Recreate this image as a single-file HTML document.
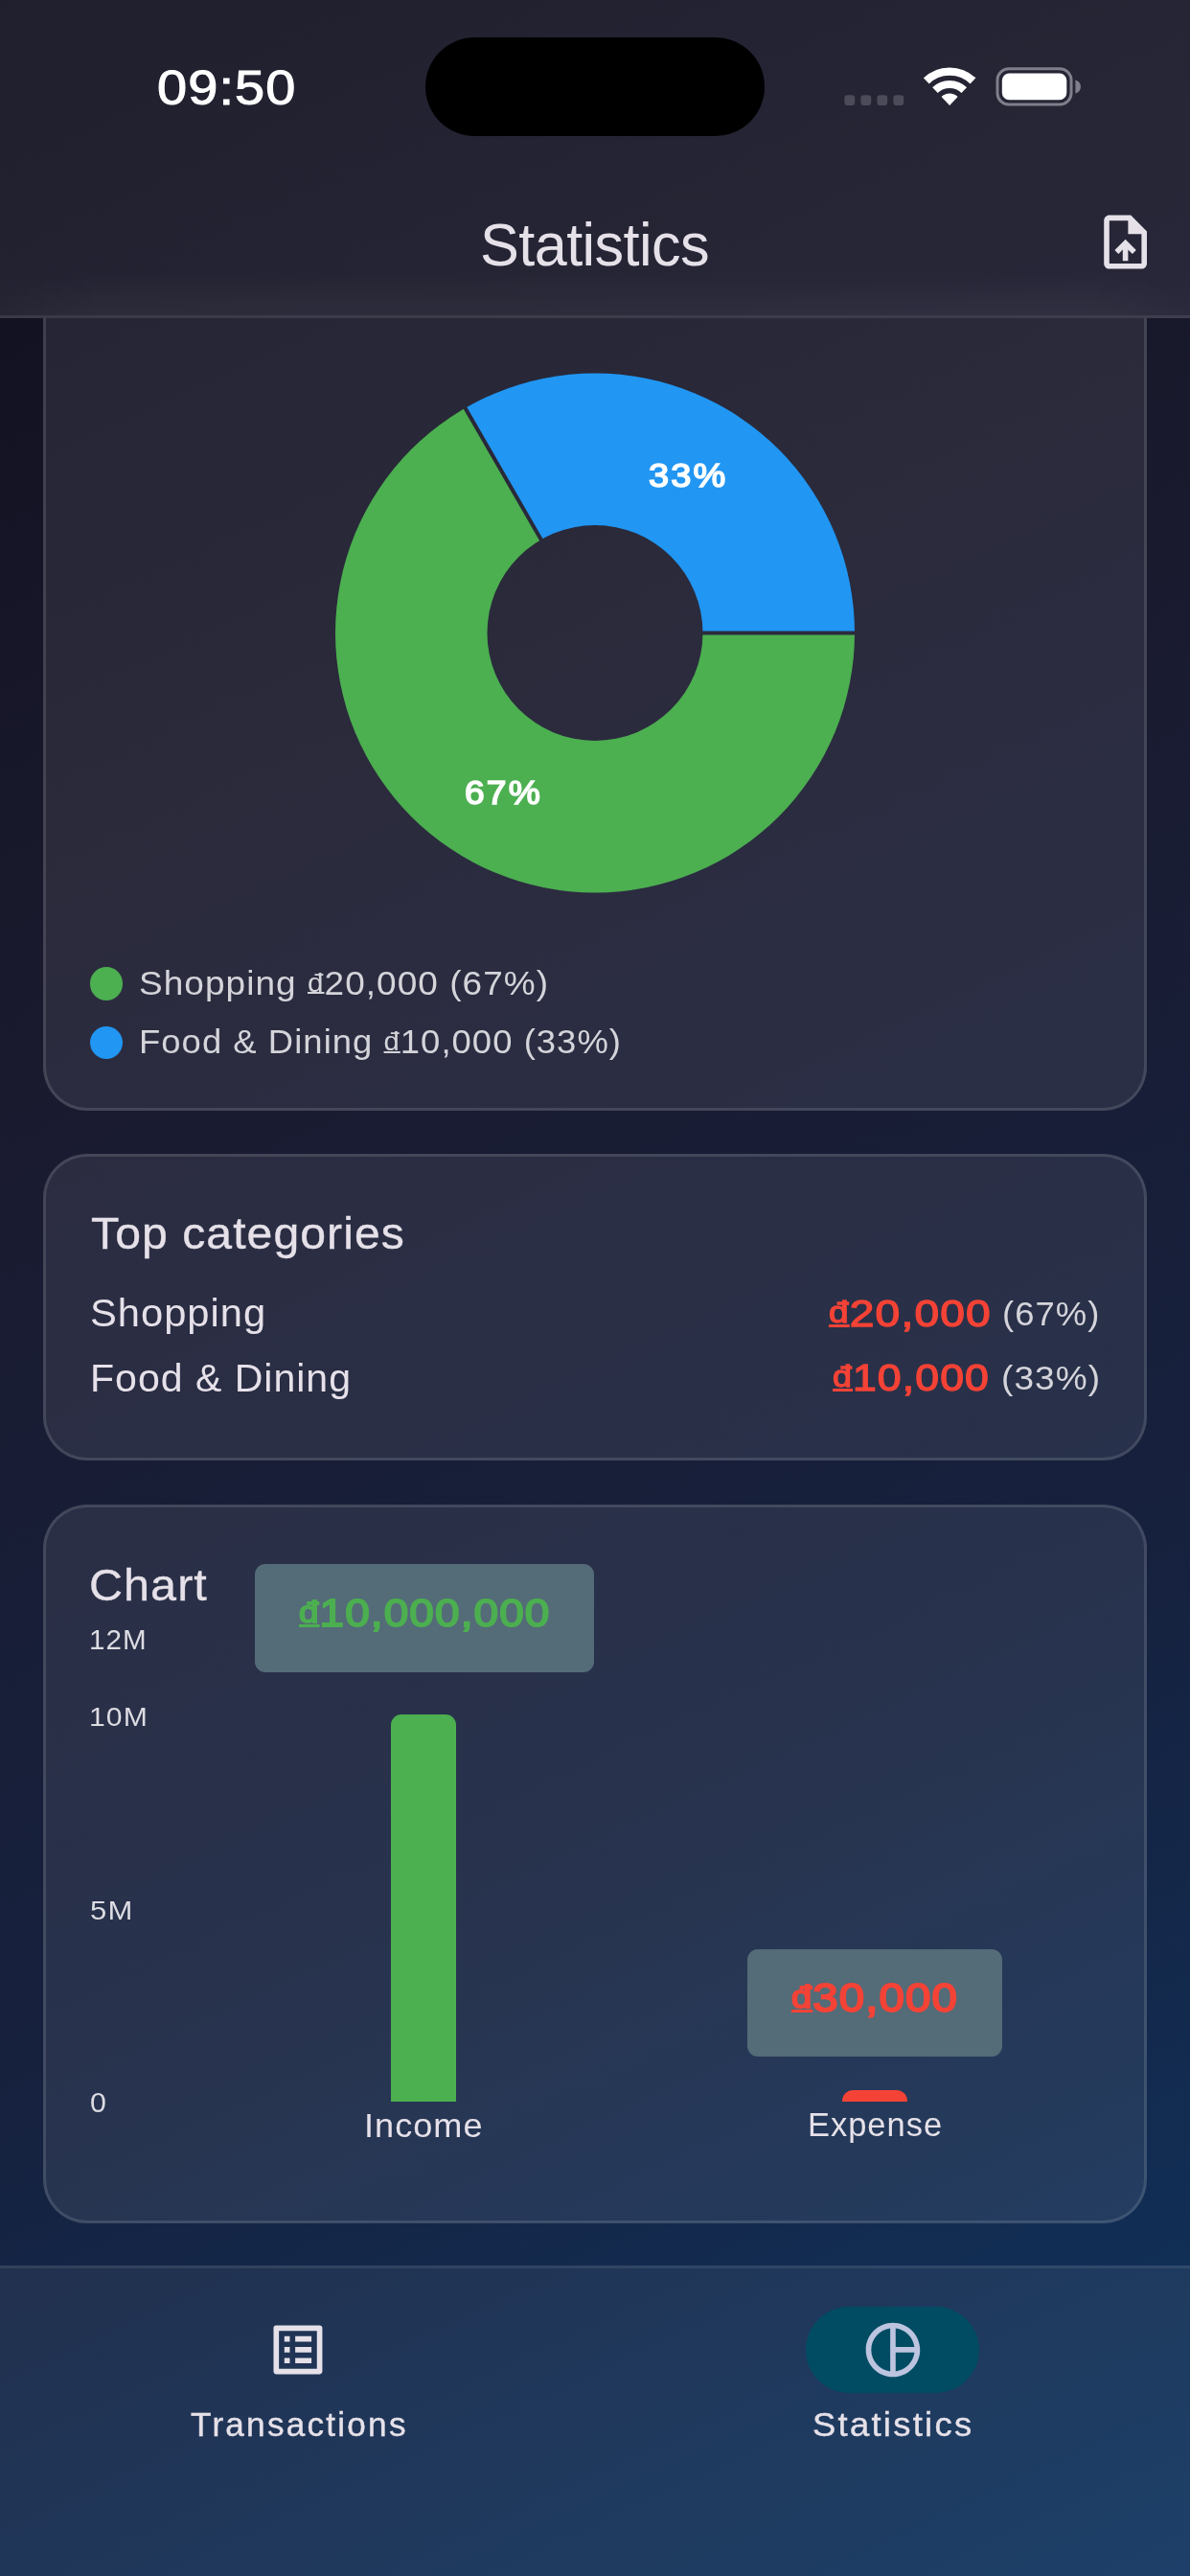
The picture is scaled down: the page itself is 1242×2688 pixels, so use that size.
<!DOCTYPE html>
<html><head><meta charset="utf-8"><title>Statistics</title>
<style>
html,body{margin:0;padding:0;}
body{width:1242px;height:2688px;overflow:hidden;position:relative;font-family:"Liberation Sans",sans-serif;
background:linear-gradient(155.2deg,#0f0f1e 0%,#1a1a2e 33.33%,#16213e 66.67%,#0f3460 100%);}
.t{position:absolute;white-space:pre;line-height:normal;margin:0;padding:0;}
.abs{position:absolute;}
.dg{font-size:80%;vertical-align:.115em;text-decoration:underline;text-decoration-thickness:.085em;text-underline-offset:.05em;text-decoration-skip-ink:none;}
.card{position:absolute;left:45px;width:1152px;box-sizing:border-box;border:3px solid rgba(255,255,255,.12);
background:rgba(255,255,255,.08);border-radius:46px;}
svg{position:absolute;overflow:visible;}
</style></head><body>
<div class="card" style="top:200px;height:958.5px;"></div>
<div class="card" style="top:1204px;height:320px;"></div>
<div class="card" style="top:1570px;height:750px;"></div>
<svg class="abs" style="left:0;top:0" width="1242" height="1200" viewBox="0 0 1242 1200">
<defs><mask id="ring" maskUnits="userSpaceOnUse" x="0" y="0" width="1242" height="1200">
<rect x="0" y="0" width="1242" height="1200" fill="#000"/>
<circle cx="621" cy="660.5" r="271" fill="#fff"/>
<circle cx="621" cy="660.5" r="112.5" fill="#000"/>
<line x1="621" y1="660.5" x2="896" y2="660.5" stroke="#000" stroke-width="4"/>
<line x1="621" y1="660.5" x2="484.50" y2="424.08" stroke="#000" stroke-width="4"/>
</mask></defs>
<g mask="url(#ring)">
<circle cx="621" cy="660.5" r="272" fill="#4caf50"/>
<path d="M621 660.5 L484.00 423.21 A274 274 0 0 1 895 660.5 Z" fill="#2196f3"/>
</g>
</svg>
<div class="t" style="left:676.6px;top:477.1px;font-size:34.5px;font-weight:400;letter-spacing:2.0px;color:#fff;-webkit-text-stroke:1.59px #fff;transform:scaleX(1.0992);transform-origin:0 0;">33%</div>
<div class="t" style="left:485.1px;top:807.1px;font-size:35.0px;font-weight:400;letter-spacing:2.0px;color:#fff;-webkit-text-stroke:1.61px #fff;transform:scaleX(1.0630);transform-origin:0 0;">67%</div>
<div class="abs" style="left:93.5px;top:1009px;width:34.5px;height:34.5px;border-radius:50%;background:#4caf50"></div>
<div class="abs" style="left:93.5px;top:1070.5px;width:34.5px;height:34.5px;border-radius:50%;background:#2196f3"></div>
<div class="t" style="left:144.9px;top:1005.5px;font-size:35.0px;font-weight:400;letter-spacing:1.0px;color:#d4d4da;transform:scaleX(1.0562);transform-origin:0 0;">Shopping <span class="dg">đ</span>20,000 (67%)</div>
<div class="t" style="left:144.9px;top:1067.3px;font-size:35.0px;font-weight:400;letter-spacing:1.0px;color:#d4d4da;transform:scaleX(1.0408);transform-origin:0 0;">Food &amp; Dining <span class="dg">đ</span>10,000 (33%)</div>
<div class="t" style="left:94.9px;top:1261.7px;font-size:45.5px;font-weight:400;letter-spacing:1.0px;color:#e6e1e9;-webkit-text-stroke:0.35px #e6e1e9;transform:scaleX(1.0579);transform-origin:0 0;">Top categories</div>
<div class="t" style="left:94.0px;top:1346.3px;font-size:41.5px;font-weight:400;letter-spacing:1.0px;color:#e6e1e9;transform:scaleX(1.0038);transform-origin:0 0;">Shopping</div>
<div class="t" style="left:93.8px;top:1414.0px;font-size:41.5px;font-weight:400;letter-spacing:1.0px;color:#e6e1e9;transform:scaleX(0.9892);transform-origin:0 0;">Food &amp; Dining</div>
<div class="t" style="left:864.9px;top:1349.0px;font-size:39.0px;font-weight:400;letter-spacing:1.0px;color:#f44336;-webkit-text-stroke:1.33px #f44336;transform:scaleX(1.1829);transform-origin:0 0;"><span class="dg">đ</span>20,000</div>
<div class="t" style="left:1046.3px;top:1351.0px;font-size:35.0px;font-weight:400;letter-spacing:1.0px;color:#d4d4da;transform:scaleX(1.0406);transform-origin:0 0;">(67%)</div>
<div class="t" style="left:868.9px;top:1416.0px;font-size:39.0px;font-weight:400;letter-spacing:1.0px;color:#f44336;-webkit-text-stroke:1.33px #f44336;transform:scaleX(1.1414);transform-origin:0 0;"><span class="dg">đ</span>10,000</div>
<div class="t" style="left:1044.7px;top:1418.0px;font-size:35.0px;font-weight:400;letter-spacing:1.0px;color:#d4d4da;transform:scaleX(1.0578);transform-origin:0 0;">(33%)</div>
<div class="t" style="left:92.5px;top:1626.4px;font-size:47.0px;font-weight:400;letter-spacing:1.0px;color:#e6e1e9;-webkit-text-stroke:0.35px #e6e1e9;transform:scaleX(1.0327);transform-origin:0 0;">Chart</div>
<div class="t" style="left:92.7px;top:1694.5px;font-size:29.0px;font-weight:400;letter-spacing:1.0px;color:#dcdce2;transform:scaleX(1.0218);transform-origin:0 0;">12M</div>
<div class="t" style="left:92.7px;top:1775.7px;font-size:28.0px;font-weight:400;letter-spacing:1.0px;color:#dcdce2;transform:scaleX(1.0761);transform-origin:0 0;">10M</div>
<div class="t" style="left:93.8px;top:1977.0px;font-size:28.5px;font-weight:400;letter-spacing:1.0px;color:#dcdce2;transform:scaleX(1.0913);transform-origin:0 0;">5M</div>
<div class="t" style="left:93.8px;top:2177.8px;font-size:29.0px;font-weight:400;letter-spacing:0.0px;color:#dcdce2;transform:scaleX(1.0459);transform-origin:0 0;">0</div>
<div class="abs" style="left:265.5px;top:1632px;width:354.5px;height:112.5px;border-radius:11px;background:#546b78"></div>
<div class="t" style="left:312.0px;top:1660.5px;font-size:40.0px;font-weight:400;letter-spacing:1.0px;color:#4caf50;-webkit-text-stroke:1.84px #4caf50;transform:scaleX(1.1462);transform-origin:0 0;"><span class="dg">đ</span>10,000,000</div>
<div class="abs" style="left:408px;top:1789px;width:68px;height:404px;border-radius:11px 11px 0 0;background:#4caf50"></div>
<div class="abs" style="left:780.3px;top:2033.7px;width:265.7px;height:112px;border-radius:11px;background:#546b78"></div>
<div class="t" style="left:826.4px;top:2061.4px;font-size:42.5px;font-weight:400;letter-spacing:1.0px;color:#f44336;-webkit-text-stroke:1.96px #f44336;transform:scaleX(1.1165);transform-origin:0 0;"><span class="dg">đ</span>30,000</div>
<div class="abs" style="left:879px;top:2181px;width:68px;height:12px;border-radius:11.5px 11.5px 0 0;background:#f44336"></div>
<div class="t" style="left:379.7px;top:2198.0px;font-size:35.0px;font-weight:400;letter-spacing:1.0px;color:#e6e1e9;transform:scaleX(1.0314);transform-origin:0 0;">Income</div>
<div class="t" style="left:842.6px;top:2197.6px;font-size:34.5px;font-weight:400;letter-spacing:1.0px;color:#e6e1e9;transform:scaleX(0.9985);transform-origin:0 0;">Expense</div>
<div class="abs" style="left:0;top:0;width:1242px;height:332px;background:#0f0f1e linear-gradient(155.2deg,#0f0f1e 0%,#1a1a2e 33.33%,#16213e 66.67%,#0f3460 100%);background-size:1242px 2688px;background-repeat:no-repeat;"></div>
<div class="abs" style="left:0;top:0;width:1242px;height:329px;background:linear-gradient(to bottom,rgba(255,255,255,.066) 0%,rgba(255,255,255,.068) 86%,rgba(255,255,255,.078) 100%);border-bottom:3px solid rgba(255,255,255,.105);"></div>
<div class="abs" style="left:0;top:270px;width:1242px;height:59px;background:linear-gradient(to bottom,rgba(255,255,255,0) 0%,rgba(255,255,255,.008) 35%,rgba(255,255,255,.03) 100%);-webkit-mask-image:linear-gradient(to right,rgba(0,0,0,.15) 0,#000 110px,#000 1132px,rgba(0,0,0,.15) 1242px);mask-image:linear-gradient(to right,rgba(0,0,0,.15) 0,#000 110px,#000 1132px,rgba(0,0,0,.15) 1242px);"></div>
<div class="abs" style="left:444px;top:39px;width:354px;height:103px;border-radius:52px;background:#000"></div>
<div class="t" style="left:164.3px;top:63.3px;font-size:50.0px;font-weight:400;letter-spacing:1.0px;color:#fff;-webkit-text-stroke:1.05px #fff;transform:scaleX(1.1180);transform-origin:0 0;">09:50</div>
<div class="t" style="left:500.8px;top:218.5px;font-size:63.5px;font-weight:400;letter-spacing:-0.6px;color:#e6e1e9;transform:scaleX(0.9639);transform-origin:0 0;">Statistics</div>
<svg style="left:0;top:0" width="1242" height="330" viewBox="0 0 1242 330">
<rect x="881.4" y="99.2" width="10.8" height="10.8" rx="3" fill="#4b4b59"/><rect x="898.4" y="99.2" width="10.8" height="10.8" rx="3" fill="#4b4b59"/><rect x="915.4" y="99.2" width="10.8" height="10.8" rx="3" fill="#4b4b59"/><rect x="932.4" y="99.2" width="10.8" height="10.8" rx="3" fill="#4b4b59"/>
<clipPath id="wf"><path d="M991.1 110 L949.80 66.48 L1032.40 66.48 Z"/></clipPath>
<g clip-path="url(#wf)" fill="none" stroke="#fff">
<circle cx="991.1" cy="110" r="35.4" stroke-width="8.4"/>
<circle cx="991.1" cy="110" r="22" stroke-width="8"/>
<circle cx="991.1" cy="110" r="6.2" stroke-width="12.4"/>
</g>
<rect x="1041" y="71.8" width="77" height="37.2" rx="11.8" fill="none" stroke="#7f7f8b" stroke-width="3"/>
<rect x="1045.8" y="76.6" width="67.5" height="27.6" rx="7.5" fill="#fff"/>
<path d="M1122.4 83.6 C1126.6 84.6 1127.9 88 1127.9 90.5 C1127.9 93 1126.6 96.4 1122.4 97.4 Z" fill="#7f7f8b"/>
</svg>
<svg style="left:1140.65px;top:219.40px" width="67.20" height="67.20" viewBox="0 0 24 24">
<path fill="#e6e1e9" d="M14,2H6C4.9,2,4.01,2.9,4.01,4L4,20c0,1.1,0.89,2,1.99,2H18c1.1,0,2-0.9,2-2V8L14,2z M18,20H6V4h7v5h5V20z M8,15.01 l1.41,1.41L11,14.84V19h2v-4.16l1.59,1.59L16,15.01L12.01,11L8,15.01z"/>
</svg>
<div class="abs" style="left:0;top:2364px;width:1242px;height:324px;background:#0f3460 linear-gradient(155.2deg,#0f0f1e 0%,#1a1a2e 33.33%,#16213e 66.67%,#0f3460 100%);background-size:1242px 2688px;background-position:0 -2364px;background-repeat:no-repeat;"></div>
<div class="abs" style="left:0;top:2364px;width:1242px;height:324px;box-sizing:border-box;background:rgba(255,255,255,.06);border-top:3px solid rgba(255,255,255,.08);"></div>
<div class="abs" style="left:841px;top:2406.7px;width:181px;height:90px;border-radius:45px;background:#014c63"></div>
<svg style="left:276.54px;top:2417.54px" width="67.92" height="67.92" viewBox="0 0 24 24">
<path fill="#e6e1e9" d="M11 7h6v2h-6zm0 4h6v2h-6zm0 4h6v2h-6zM7 7h2v2H7zm0 4h2v2H7zm0 4h2v2H7zM20.1 3H3.9c-.5 0-.9.4-.9.9v16.2c0 .4.4.9.9.9h16.2c.4 0 .9-.5.9-.9V3.9c0-.5-.5-.9-.9-.9zM19 19H5V5h14v14z"/>
</svg>
<svg style="left:897.54px;top:2417.74px" width="67.92" height="67.92" viewBox="0 0 24 24">
<path fill="#bcc4e0" d="M12 2C6.48 2 2 6.48 2 12s4.48 10 10 10 10-4.48 10-10S17.52 2 12 2zm1 2.07c3.61.45 6.48 3.33 6.93 6.93H13V4.07zM4 12c0-4.06 3.07-7.44 7-7.93v15.87c-3.93-.5-7-3.88-7-7.94zm9 7.93V13h6.93c-.45 3.61-3.32 6.48-6.93 6.93z"/>
</svg>
<div class="t" style="left:199.0px;top:2510.7px;font-size:34.5px;font-weight:400;letter-spacing:2.2px;color:#e6e1e9;-webkit-text-stroke:0.4px #e6e1e9;transform:scaleX(1.0183);transform-origin:0 0;">Transactions</div>
<div class="t" style="left:848.1px;top:2509.5px;font-size:35.0px;font-weight:400;letter-spacing:2.2px;color:#e6e1e9;-webkit-text-stroke:0.4px #e6e1e9;transform:scaleX(1.0396);transform-origin:0 0;">Statistics</div>
</body></html>
